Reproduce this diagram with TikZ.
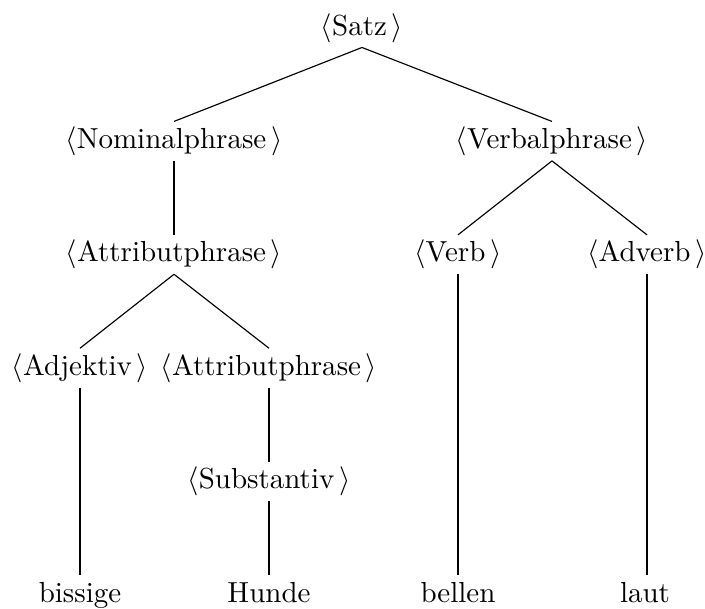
\documentclass[tikz,border=0pt]{standalone}
\begin{document}
\begin{tikzpicture}[x=0.3448pt,y=-0.3448pt,
  tn/.style={anchor=base,inner xsep=0pt,inner ysep=0.6pt,text height=8.5pt,text depth=3.5pt},
  br/.style={line width=0.4pt}]
\useasboundingbox (0,0) rectangle (705,608);
\newcommand{\nt}[1]{$\langle$#1\,$\rangle$}
\node[tn] (satz) at (362,35) {\nt{Satz}};
\node[tn] (np) at (174,148.4) {\nt{Nominalphrase}};
\node[tn] (vp) at (552,148.4) {\nt{Verbalphrase}};
\node[tn] (ap) at (174,261.8) {\nt{Attributphrase}};
\node[tn] (v) at (458,261.8) {\nt{Verb}};
\node[tn] (adv) at (647,261.8) {\nt{Adverb}};
\node[tn] (adj) at (80,375.2) {\nt{Adjektiv}};
\node[tn] (ap2) at (269,375.2) {\nt{Attributphrase}};
\node[tn] (sub) at (269,488.6) {\nt{Substantiv}};
\node[tn] (w1) at (80,602) {bissige};
\node[tn] (w2) at (269,602) {Hunde};
\node[tn] (w3) at (458,602) {bellen};
\node[tn] (w4) at (645,602) {laut};
\draw[br] (satz.south) -- (np.north);
\draw[br] (satz.south) -- (vp.north);
\draw[br] (np.south) -- (ap.north);
\draw[br] (vp.south) -- (v.north);
\draw[br] (vp.south) -- (adv.north);
\draw[br] (ap.south) -- (adj.north);
\draw[br] (ap.south) -- (ap2.north);
\draw[br] (ap2.south) -- (sub.north);
\draw[br] (adj.south) -- (w1.north);
\draw[br] (sub.south) -- (w2.north);
\draw[br] (v.south) -- (w3.north);
\draw[br] (adv.south) -- (adv.south |- w4.north);
\end{tikzpicture}
\end{document}
